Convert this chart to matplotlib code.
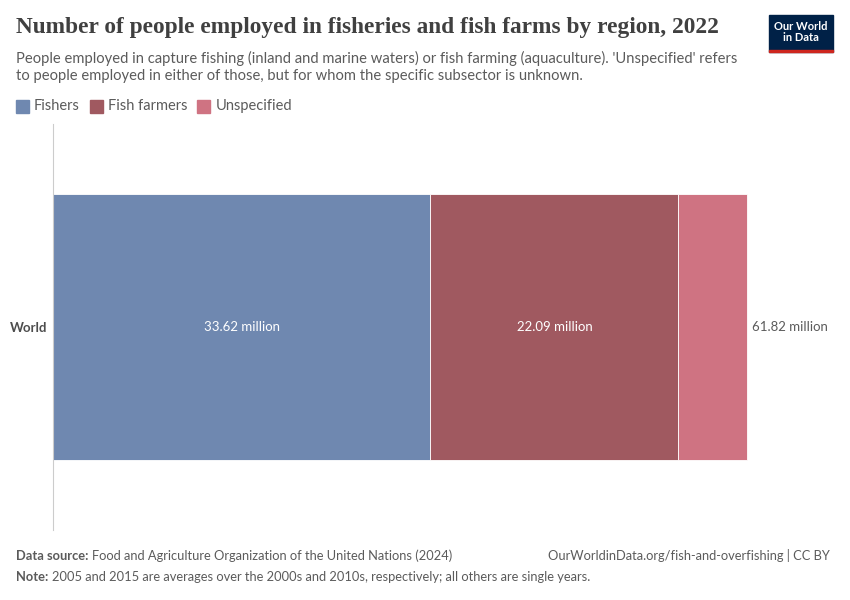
import matplotlib.pyplot as plt
from matplotlib.patches import Rectangle

# data
region = ["World"]
series = ["Fishers", "Fish farmers", "Unspecified"]
fishers = [33.62]
fish_farmers = [22.09]
unspecified = [6.11]
totals = [61.82]
colors = ["#6F88B0", "#A05960", "#CF7382"]

plt.rcParams["font.family"] = ["Lato", "DejaVu Sans"]

W, H = 850, 600
fig = plt.figure(figsize=(W / 100, H / 100), dpi=100)

# axes placed in pixel coordinates
left, right, top, bottom = 53, 830, 124, 530
ax = fig.add_axes([left / W, 1 - bottom / H, (right - left) / W, (bottom - top) / H])

px_per_unit = (747 - left) / totals[0]
ax.set_xlim(0, (right - left) / px_per_unit)
ax.set_ylim(-0.5, 0.5)

bar_h = 266 / (bottom - top)
stacks = [fishers, fish_farmers, unspecified]
start = [0.0] * len(region)
for name, vals, col in zip(series, stacks, colors):
    ax.barh(range(len(region)), vals, left=start, height=bar_h, color=col,
            edgecolor="white", linewidth=0.6, label=name)
    for i, v in enumerate(vals):
        if v > 10:
            ax.text(start[i] + v / 2, i, f"{v:.2f} million", ha="center", va="center",
                    color="white", fontsize=9.5)
    start = [s + v for s, v in zip(start, vals)]

for i, t in enumerate(totals):
    ax.text(t + 0.45, i, f"{t:.2f} million", ha="left", va="center", color="#5b5b5b", fontsize=9.5)

ax.set_yticks(range(len(region)))
ax.set_yticklabels(region, fontsize=9.5, fontweight="bold", color="#4d4d4d")
ax.tick_params(axis="y", length=0, pad=4)
ax.set_xticks([])
for s in ["top", "right", "bottom"]:
    ax.spines[s].set_visible(False)
ax.spines["left"].set_color("#cccccc")
ax.spines["left"].set_linewidth(0.8)

# title and subtitle
title = fig.text(16 / W, 1 - 28 / H, "Number of people employed in fisheries and fish farms by region, 2022",
                 family=["Liberation Serif", "DejaVu Serif"], fontsize=16, fontweight="bold",
                 color="#404040", ha="left", va="center")
fig.canvas.draw()
tw = title.get_window_extent().width
title.set_fontsize(16 * 706 / tw)

fig.text(16 / W, 1 - 67 / H,
         "People employed in capture fishing (inland and marine waters) or fish farming (aquaculture). 'Unspecified' refers\n"
         "to people employed in either of those, but for whom the specific subsector is unknown.",
         fontsize=10.65, color="#5b5b5b", ha="left", va="center", linespacing=1.35)

# legend
lx = 16
for name, col in zip(series, colors):
    fig.patches.append(Rectangle((lx / W, 1 - 113 / H), 13 / W, 13 / H, transform=fig.transFigure,
                                 color=col))
    t = fig.text((lx + 18) / W, 1 - 106 / H, name, fontsize=10.5, color="#5b5b5b", ha="left", va="center")
    fig.canvas.draw()
    bb = t.get_window_extent()
    lx = bb.x1 + 10

# logo
fig.patches.append(Rectangle((769 / W, 1 - 52 / H), 64 / W, 37 / H, transform=fig.transFigure,
                             color="#002147"))
fig.patches.append(Rectangle((769 / W, 1 - 52 / H), 64 / W, 2.5 / H, transform=fig.transFigure,
                             color="#CE261E"))
fig.text(801 / W, 1 - 32 / H, "Our World\nin Data", fontsize=8, color="white", ha="center",
         va="center", linespacing=1.05, fontweight="bold")

# footer
fs = 9.3
fig.text(16 / W, 1 - 556 / H, "Data source:", fontsize=fs, color="#5b5b5b", fontweight="bold",
         ha="left", va="center")
fig.text(92 / W, 1 - 556 / H, "Food and Agriculture Organization of the United Nations (2024)",
         fontsize=fs, color="#5b5b5b", ha="left", va="center")
fig.text(830 / W, 1 - 556 / H, "OurWorldinData.org/fish-and-overfishing | CC BY", fontsize=fs,
         color="#5b5b5b", ha="right", va="center")
fig.text(16 / W, 1 - 577 / H, "Note:", fontsize=fs, color="#5b5b5b", fontweight="bold",
         ha="left", va="center")
fig.text(52 / W, 1 - 577 / H,
         "2005 and 2015 are averages over the 2000s and 2010s, respectively; all others are single years.",
         fontsize=fs, color="#5b5b5b", ha="left", va="center")

fig.savefig("out.png", dpi=100, facecolor="white")
